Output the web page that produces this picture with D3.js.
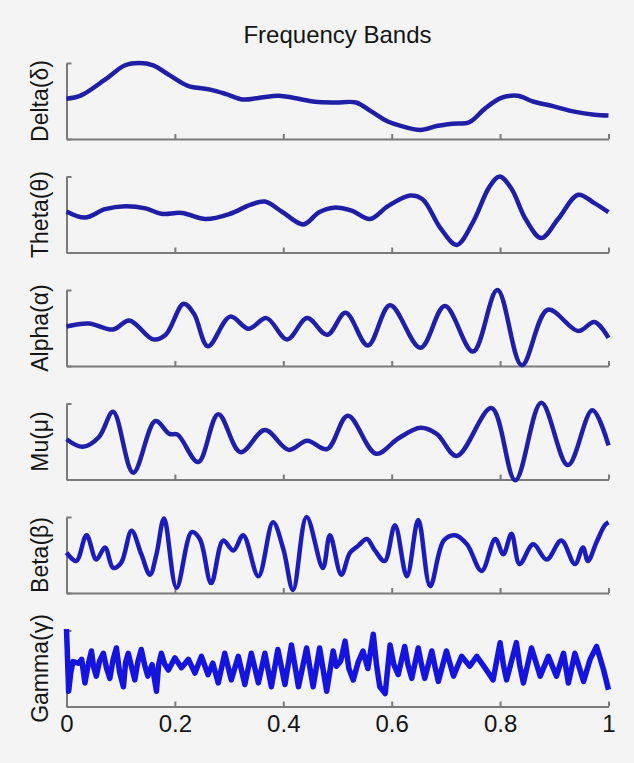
<!DOCTYPE html>
<html>
<head>
<meta charset="utf-8">
<script src="https://cdn.jsdelivr.net/npm/d3@7"></script>
<style>
  html, body { margin: 0; padding: 0; background: #f4f4f4; }
  svg { display: block; }
  .axis path, .axis line { stroke: #7a7a7a; stroke-width: 2; }
  .tick text { font-family: "Liberation Sans", Arial, sans-serif; fill: #151515; }
</style>
</head>
<body>
<div id="chart"></div>
<script>
var title = "Frequency Bands";
var bandNames = ["Delta(δ)", "Theta(θ)", "Alpha(α)", "Mu(μ)", "Beta(β)", "Gamma(γ)"];
var xTicks = [0, 0.2, 0.4, 0.6, 0.8, 1];

// [time, normalised amplitude]
var delta = [[0,.53],[.026,.57],[.071,.78],[.108,.97],[.134,1],[.16,.97],[.19,.84],[.224,.70],[.265,.65],
  [.295,.59],[.325,.52],[.354,.54],[.392,.57],[.42,.54],[.459,.49],[.496,.48],[.534,.48],[.563,.36],
  [.593,.23],[.623,.16],[.653,.12],[.683,.17],[.713,.20],[.743,.22],[.772,.40],[.802,.54],[.832,.57],
  [.862,.49],[.899,.43],[.937,.36],[.974,.32],[1,.31]];
var theta = [[0,.54],[.034,.46],[.071,.57],[.108,.61],[.146,.58],[.175,.51],[.213,.52],[.257,.44],[.302,.51],
  [.34,.63],[.366,.67],[.399,.53],[.437,.37],[.466,.53],[.493,.59],[.526,.55],[.56,.44],[.593,.61],
  [.634,.75],[.657,.70],[.69,.32],[.72,.10],[.75,.40],[.78,.86],[.799,1],[.821,.84],[.847,.44],
  [.876,.19],[.907,.44],[.944,.76],[.974,.65],[1,.53]];
var alpha = [[0,.52],[.041,.56],[.086,.48],[.116,.60],[.16,.35],[.183,.41],[.216,.82],[.235,.69],[.261,.26],
  [.302,.65],[.336,.49],[.369,.63],[.407,.35],[.444,.63],[.481,.41],[.515,.70],[.556,.27],[.597,.80],
  [.653,.24],[.698,.79],[.75,.19],[.795,1],[.84,.01],[.888,.74],[.944,.46],[.974,.58],[1,.37]];
var mu = [[0,.53],[.03,.43],[.06,.56],[.086,.89],[.123,.09],[.164,.77],[.19,.60],[.205,.59],[.243,.23],
  [.28,.86],[.321,.36],[.366,.65],[.41,.39],[.444,.51],[.481,.40],[.519,.84],[.571,.34],[.612,.54],
  [.653,.68],[.683,.60],[.72,.31],[.784,.94],[.828,-.01],[.876,1.01],[.925,.19],[.97,.91],[1,.45]];
var beta = [[0,.53],[.018,.42],[.037,.76],[.055,.44],[.071,.60],[.086,.33],[.101,.40],[.12,.82],[.138,.51],
  [.154,.24],[.166,.51],[.18,.98],[.203,.07],[.231,.80],[.246,.71],[.267,.13],[.289,.69],[.308,.56],
  [.326,.76],[.354,.22],[.381,.93],[.4,.58],[.418,.04],[.443,1],[.473,.33],[.486,.76],[.507,.24],
  [.523,.53],[.538,.62],[.554,.71],[.569,.56],[.587,.42],[.606,.89],[.628,.22],[.649,.96],[.671,.09],
  [.696,.69],[.717,.76],[.739,.64],[.766,.29],[.791,.71],[.806,.51],[.821,.78],[.836,.38],[.861,.64],
  [.886,.44],[.913,.69],[.938,.38],[.953,.60],[.962,.42],[.978,.67],[.993,.89],[1,.93]];
var gamma = [[0,1.02],[.004,.20],[.008,.45],[.012,.59],[.022,.57],[.028,.62],[.034,.31],[.040,.55],[.046,.73],
  [.050,.52],[.055,.40],[.061,.60],[.068,.70],[.074,.50],[.08,.37],[.086,.62],[.092,.77],[.098,.45],
  [.105,.26],[.109,.58],[.114,.70],[.120,.52],[.126,.35],[.132,.60],[.138,.75],[.144,.55],[.15,.40],
  [.158,.55],[.166,.20],[.170,.55],[.175,.70],[.181,.56],[.188,.48],[.2,.64],[.212,.51],[.225,.62],
  [.237,.44],[.249,.66],[.261,.42],[.27,.57],[.28,.31],[.292,.70],[.304,.35],[.317,.66],[.329,.29],
  [.341,.70],[.354,.31],[.366,.70],[.378,.26],[.39,.75],[.403,.29],[.415,.81],[.428,.26],[.443,.77],
  [.455,.26],[.467,.77],[.48,.20],[.492,.73],[.498,.53],[.506,.60],[.514,.86],[.521,.50],[.529,.35],
  [.538,.58],[.547,.73],[.556,.50],[.566,.95],[.572,.55],[.578,.26],[.588,.17],[.597,.81],[.604,.55],
  [.612,.42],[.624,.79],[.630,.55],[.637,.37],[.649,.77],[.655,.55],[.661,.37],[.674,.73],[.680,.52],
  [.686,.33],[.701,.73],[.714,.40],[.729,.66],[.744,.53],[.757,.66],[.772,.51],[.787,.35],[.8,.84],
  [.806,.55],[.812,.35],[.83,.84],[.836,.55],[.843,.31],[.858,.77],[.874,.40],[.889,.66],[.904,.40],
  [.917,.70],[.926,.31],[.938,.70],[.954,.33],[.966,.62],[.978,.79],[.991,.48],[1,.22]];

var bands = [delta, theta, alpha, mu, beta, gamma];
var colors = ["#1f1fa6", "#1f1fa6", "#1f1fa8", "#1f1fa8", "#1c1cbc", "#1414de"];
var strokes = [4.5, 4.5, 4.5, 4.5, 4.5, 5.5];

var width = 634, height = 763;
var left = 66.5, right = 608.5;
var firstTop = 63, step = 113.5, panelH = 76;

var svg = d3.select("#chart").append("svg")
  .attr("width", width)
  .attr("height", height);

var x = d3.scaleLinear().domain([0, 1]).range([left, right]);

svg.append("text")
  .attr("x", (left + right) / 2)
  .attr("y", 43)
  .attr("text-anchor", "middle")
  .style("font-family", "Liberation Sans, Arial, sans-serif")
  .style("font-size", "24px")
  .style("fill", "#151515")
  .text(title);

bands.forEach(function(data, i) {
  var top = firstTop + step * i;
  var y = d3.scaleLinear().domain([0, 1]).range([top + panelH, top]);
  var g = svg.append("g");

  var xAxis = d3.axisBottom(x).tickValues(xTicks).tickSizeInner(-5).tickSizeOuter(0)
    .tickFormat(i === bands.length - 1 ? d3.format("") : "");
  var gx = g.append("g").attr("class", "axis")
    .attr("transform", "translate(0," + (top + panelH) + ")")
    .call(xAxis);
  gx.selectAll(".tick text").attr("y", 8).attr("dy", "0.71em").style("font-size", "24px");

  var yAxis = d3.axisLeft(y).tickValues([0, 1]).tickSizeInner(-5).tickSizeOuter(0).tickFormat("");
  g.append("g").attr("class", "axis")
    .attr("transform", "translate(" + left + ",0)")
    .call(yAxis);

  var line = d3.line()
    .x(function(d) { return x(d[0]); })
    .y(function(d) { return y(d[1]); })
    .curve(i === 5 ? d3.curveLinear : d3.curveCatmullRom.alpha(0.5));

  g.append("path")
    .datum(data)
    .attr("fill", "none")
    .attr("stroke", colors[i])
    .attr("stroke-width", strokes[i])
    .attr("stroke-linejoin", "round")
    .attr("d", line);

  g.append("text")
    .attr("transform", "translate(48," + (top + panelH / 2) + ") rotate(-90)")
    .attr("text-anchor", "middle")
    .style("font-family", "Liberation Sans, Arial, sans-serif")
    .style("font-size", "23px")
    .style("fill", "#151515")
    .text(bandNames[i]);
});
</script>
</body>
</html>
